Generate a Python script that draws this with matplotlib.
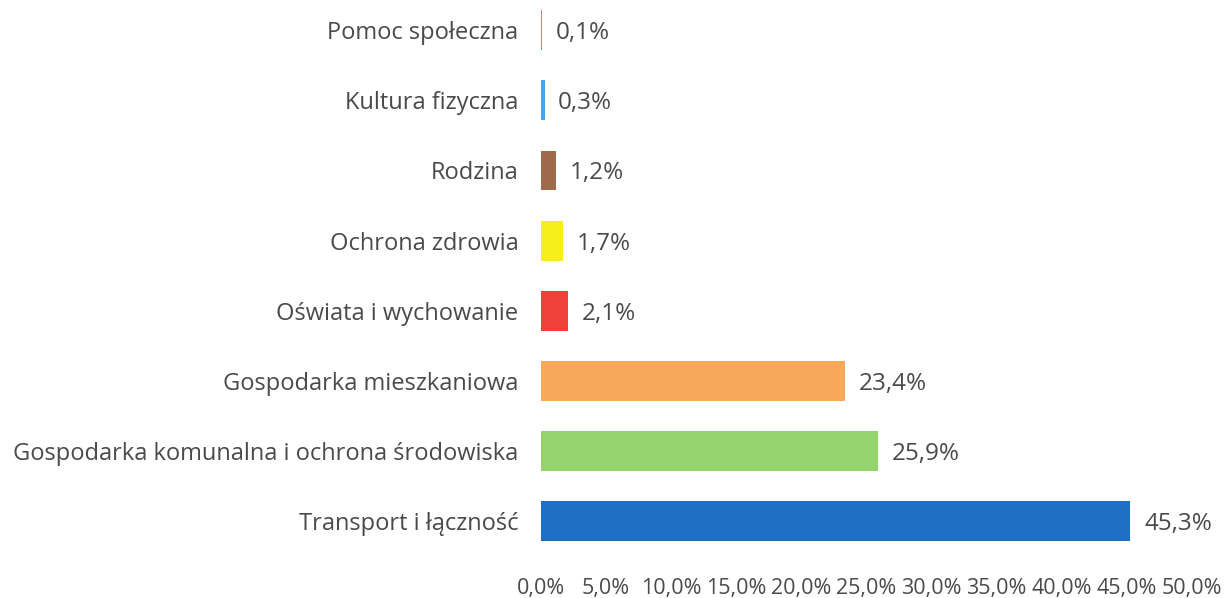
import matplotlib
matplotlib.use('Agg')
import matplotlib.pyplot as plt

# Data (bottom to top)
categories = [
    "Transport i łączność",
    "Gospodarka komunalna i ochrona środowiska",
    "Gospodarka mieszkaniowa",
    "Oświata i wychowanie",
    "Ochrona zdrowia",
    "Rodzina",
    "Kultura fizyczna",
    "Pomoc społeczna",
]
values = [45.3, 25.9, 23.4, 2.1, 1.7, 1.2, 0.3, 0.1]
colors = ["#1f6fc4", "#95d46c", "#f9a95a", "#ef4138", "#f7ee1e", "#9f6a4a", "#4ba3e3", "#5aaee8"]
xticks = [0, 5, 10, 15, 20, 25, 30, 35, 40, 45, 50]

plt.rcParams['font.family'] = ['Open Sans', 'DejaVu Sans']
text_color = '#4a4a4a'

fig = plt.figure(figsize=(12.26, 5.98), dpi=100)
ax = fig.add_axes([0.441, 0.0702, 0.531, 0.926])

ypos = list(range(len(categories)))
ax.barh(ypos, values, height=0.57, color=colors)

for y, v in zip(ypos, values):
    ax.text(v + 1.05, y, f"{v:.1f}%".replace('.', ','), va='center_baseline', ha='left',
            fontsize=17.5, color=text_color)

ax.set_xlim(0, 50)
ax.set_ylim(-0.5, 7.4)
ax.set_yticks(ypos)
ax.set_yticklabels(categories, fontsize=17, color=text_color)
ax.set_xticks(xticks)
ax.set_xticklabels([f"{t:.1f}%".replace('.', ',') for t in xticks], fontsize=15.5, color=text_color)
ax.tick_params(axis='y', length=0, pad=16)
ax.tick_params(axis='x', length=0, pad=16)

for spine in ax.spines.values():
    spine.set_visible(False)

plt.savefig('out.png', dpi=100, facecolor='white')
plt.close(fig)
